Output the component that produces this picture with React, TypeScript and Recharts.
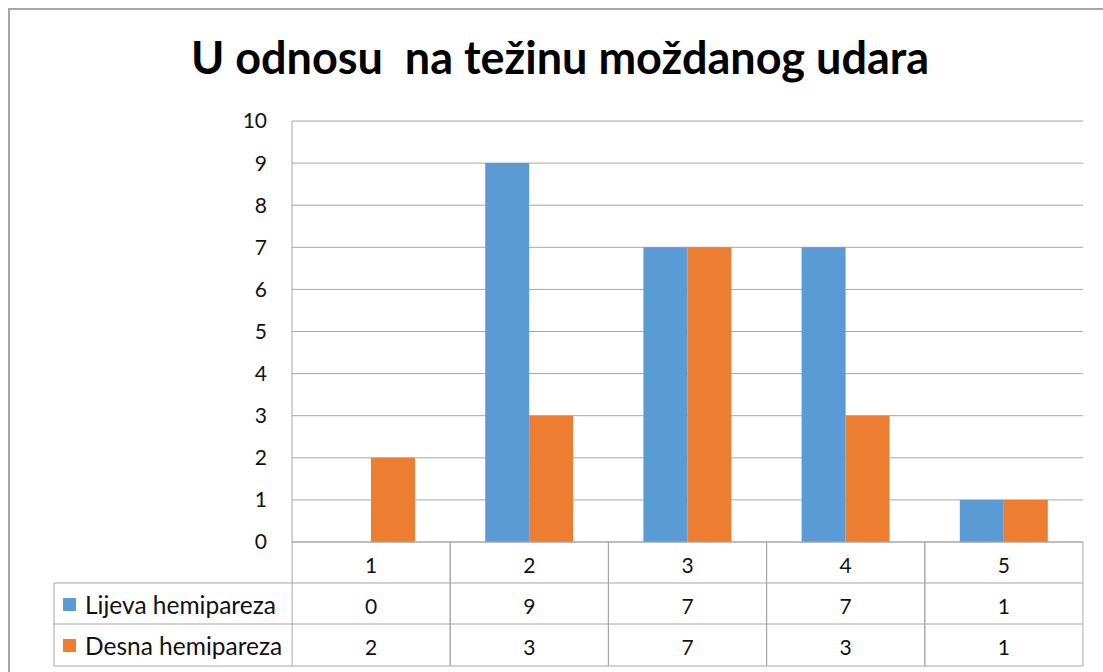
import React from "react";
import { BarChart, Bar, XAxis, YAxis, CartesianGrid } from "recharts";

const categories = ["1", "2", "3", "4", "5"];
const lijevaHemipareza = [0, 9, 7, 7, 1];
const desnaHemipareza = [2, 3, 7, 3, 1];
const seriesNames = ["Lijeva hemipareza", "Desna hemipareza"];
const yTicks = [0, 1, 2, 3, 4, 5, 6, 7, 8, 9, 10];

const BLUE = "#5B9BD5";
const ORANGE = "#ED7D31";
const LINE = "#a6a6a6";
const FONT = "Lato, 'Liberation Sans', sans-serif";

const data = categories.map((c, i) => ({
  cat: c,
  lijeva: lijevaHemipareza[i],
  desna: desnaHemipareza[i],
}));

// x axis tick that also draws the Excel-style data table column under each category
const TableTick = (props: any) => {
  const { x, y, payload } = props;
  const i = payload.index;
  const half = 79;
  const r1 = 41;
  const r2 = 82;
  const r3 = 124;
  const headerLeft = 54;
  const rows = [lijevaHemipareza, desnaHemipareza];
  const colors = [BLUE, ORANGE];

  return (
    <g>
      <line x1={x - half} y1={y} x2={x - half} y2={y + r3} stroke={LINE} />
      <line x1={x + half} y1={y} x2={x + half} y2={y + r3} stroke={LINE} />
      <line x1={x - half} y1={y + r1} x2={x + half} y2={y + r1} stroke={LINE} />
      <line x1={x - half} y1={y + r2} x2={x + half} y2={y + r2} stroke={LINE} />
      <line x1={x - half} y1={y + r3} x2={x + half} y2={y + r3} stroke={LINE} />
      <text x={x} y={y + 22} textAnchor="middle" dominantBaseline="central" fontSize={21} fontFamily={FONT} fill="#111">
        {payload.value}
      </text>
      {rows.map((row, r) => (
        <text key={r} x={x} y={y + 63 + r * 41} textAnchor="middle" dominantBaseline="central" fontSize={21} fontFamily={FONT} fill="#111">
          {row[i]}
        </text>
      ))}
      {i === 0 && (
        <g>
          <line x1={headerLeft} y1={y + r1} x2={x - half} y2={y + r1} stroke={LINE} />
          <line x1={headerLeft} y1={y + r2} x2={x - half} y2={y + r2} stroke={LINE} />
          <line x1={headerLeft} y1={y + r3} x2={x - half} y2={y + r3} stroke={LINE} />
          <line x1={headerLeft} y1={y + r1} x2={headerLeft} y2={y + r3} stroke={LINE} />
          {seriesNames.map((name, r) => (
            <g key={name}>
              <rect x={63} y={y + 56 + r * 41} width={13} height={13} fill={colors[r]} />
              <text x={85} y={y + 62 + r * 41} dominantBaseline="central" fontSize={24.5} fontFamily={FONT} fill="#111">
                {name}
              </text>
            </g>
          ))}
        </g>
      )}
    </g>
  );
};

export default function App() {
  return (
    <div style={{ position: "absolute", left: 0, top: 0, width: 1103, height: 672, background: "#fff", overflow: "hidden" }}>
      <div
        style={{
          position: "absolute",
          left: 8,
          top: 8,
          width: 1200,
          height: 800,
          borderTop: `2px solid ${LINE}`,
          borderLeft: `2px solid ${LINE}`,
        }}
      />
      <div
        style={{
          position: "absolute",
          left: 0,
          top: 30,
          width: 1120,
          textAlign: "center",
          fontFamily: FONT,
          fontWeight: 700,
          fontSize: 45,
          lineHeight: 1.2,
          whiteSpace: "pre",
          color: "#000",
        }}
      >
        {"U odnosu  na težinu moždanog udara"}
      </div>
      <div style={{ position: "absolute", left: 0, top: 0 }}>
        <BarChart
          width={1103}
          height={672}
          data={data}
          margin={{ top: 121, right: 20, bottom: 6, left: 232 }}
          barGap={0}
          barSize={44}
        >
          <CartesianGrid vertical={false} stroke={LINE} />
          <XAxis
            dataKey="cat"
            axisLine={{ stroke: LINE }}
            tickLine={false}
            tickSize={0}
            tickMargin={0}
            interval={0}
            height={124}
            tick={(p: any) => <TableTick {...p} />}
          />
          <YAxis
            domain={[0, 10]}
            ticks={yTicks}
            width={60}
            axisLine={{ stroke: LINE }}
            tickLine={false}
            tickSize={0}
            tickMargin={25}
            tick={{ fill: "#111", fontSize: 21, fontFamily: FONT }}
          />
          <Bar dataKey="lijeva" fill={BLUE} isAnimationActive={false} />
          <Bar dataKey="desna" fill={ORANGE} isAnimationActive={false} />
        </BarChart>
      </div>
    </div>
  );
}
